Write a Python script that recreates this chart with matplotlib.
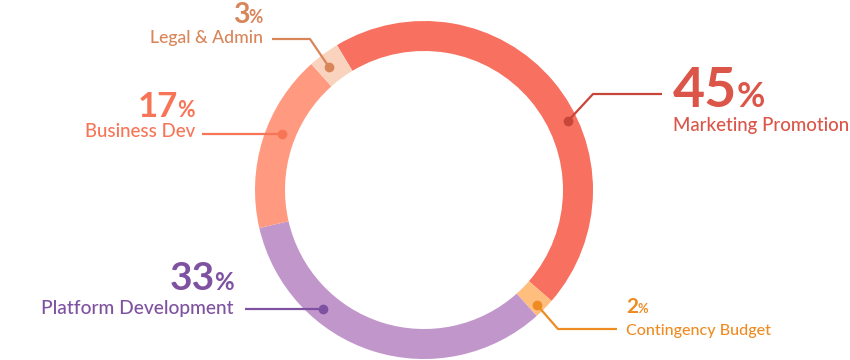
import matplotlib
matplotlib.use('Agg')
import matplotlib.pyplot as plt

categories = ['Marketing Promotion', 'Contingency Budget', 'Platform Development',
              'Business Dev', 'Legal & Admin']
values = [45, 2, 33, 17, 3]
pct_labels = ['45', '2', '33', '17', '3']
slice_colors = ['#F87060', '#FFBE7D', '#C196CB', '#FF9A80', '#F9D3BD']
text_colors = ['#DB5548', '#EE8B22', '#7E52A0', '#F77556', '#D9855A']
line_colors = ['#C8453A', '#EE8B22', '#7E52A0', '#F77556', '#D9855A']

W, H = 850, 360
FONT = 'Lato'

fig = plt.figure(figsize=(8.5, 3.6), dpi=100)
ax = fig.add_axes([0, 0, 1, 1])
ax.pie(values, colors=slice_colors, startangle=121, counterclock=False,
       center=(424, H - 190), radius=169, frame=True,
       wedgeprops=dict(width=30, linewidth=0))
ax.set_xlim(0, W)
ax.set_ylim(0, H)
ax.set_aspect('equal')
ax.axis('off')

# layout (pixel coords, y down): align, num anchor x, num baseline y, num size,
# label baseline y, label size, leader points (dot first)
layout = [
    ('left', 673, 107, 40, 131, 13.4, [(568, 121), (593, 94), (662, 94)]),
    ('left', 626, 313, 15, 335, 11.6, [(537, 305), (558, 329), (617, 329)]),
    ('right', 234, 290, 28, 314, 13.8, [(323, 309), (245, 309)]),
    ('right', 195, 117, 25, 137, 13.4, [(282, 134), (202, 134)]),
    ('right', 263, 23, 20.5, 43, 12.7, [(329, 67), (310, 39), (272, 39)]),
]

fig.canvas.draw()
renderer = fig.canvas.get_renderer()

def px_width(t):
    bb = t.get_window_extent(renderer)
    return bb.width

for i, (align, x, yb, nsize, lyb, lsize, pts) in enumerate(layout):
    c = text_colors[i]
    # leader line
    xs = [p[0] for p in pts]
    ys = [H - p[1] for p in pts]
    ax.plot(xs, ys, color=line_colors[i], lw=1.6, solid_capstyle='butt', zorder=3)
    ax.plot(xs[0], ys[0], 'o', color=line_colors[i], ms=7, mec='none', zorder=4)
    psize = nsize * 0.62
    if align == 'left':
        tn = ax.text(x, H - yb, pct_labels[i], fontsize=nsize, fontweight='bold',
                     color=c, ha='left', va='baseline', family=FONT)
        w = px_width(tn)
        ax.text(x + w - 1, H - yb, '%', fontsize=psize, fontweight='bold',
                color=c, ha='left', va='baseline', family=FONT)
        ax.text(x, H - lyb, categories[i], fontsize=lsize, color=c, fontweight=500,
                ha='left', va='baseline', family=FONT)
    else:
        tp = ax.text(x, H - yb, '%', fontsize=psize, fontweight='bold',
                     color=c, ha='right', va='baseline', family=FONT)
        w = px_width(tp)
        ax.text(x - w + 1, H - yb, pct_labels[i], fontsize=nsize, fontweight='bold',
                color=c, ha='right', va='baseline', family=FONT)
        ax.text(x, H - lyb, categories[i], fontsize=lsize, color=c, fontweight=500,
                ha='right', va='baseline', family=FONT)

fig.savefig('out.png', dpi=100, facecolor='white')
